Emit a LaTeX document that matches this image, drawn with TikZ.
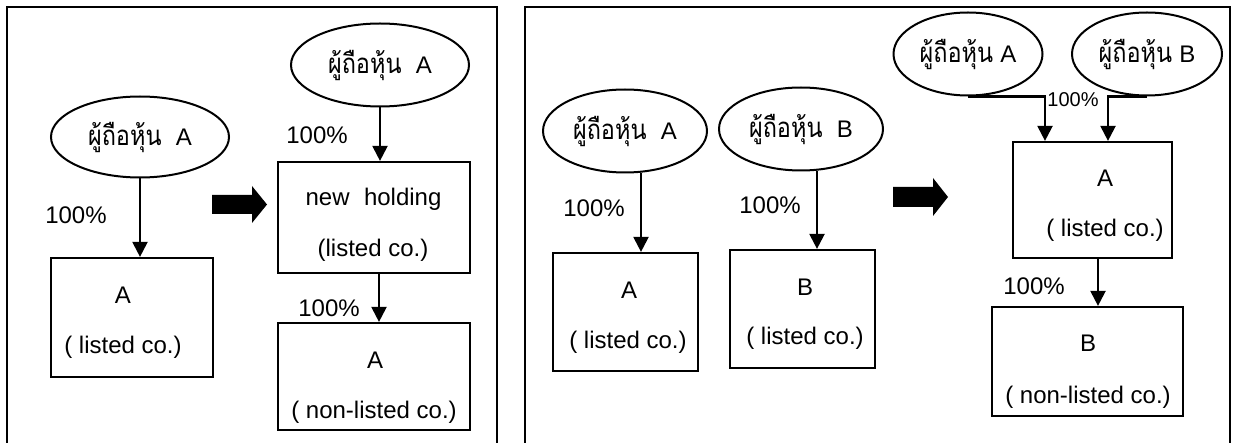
\documentclass[tikz,border=0pt]{standalone}
\usepackage{fontspec}
\setmainfont{Liberation Sans}
\newfontfamily\thaifont[Script=Thai,Scale=1.15,FakeStretch=0.85]{Loma}
\usetikzlibrary{shapes.geometric,arrows.meta}
\newcommand\holdertext[2][0.6em]{{\thaifont ผู้ถือหุ้น}\hspace{#1}#2}
\begin{document}
\begin{tikzpicture}[x=0.5pt,y=-0.5pt,
  frame/.style={draw, line width=1.1pt},
  box/.style={draw, line width=1.1pt, inner sep=0pt},
  holder/.style={draw, ellipse, line width=1pt, inner sep=0pt, font=\fontsize{12}{14}\selectfont},
  conn/.style={line width=1.1pt, -{Triangle[width=7.5pt,length=7.5pt]}},
  txt/.style={font=\fontsize{12}{14}\selectfont, inner sep=0pt},
  smalltxt/.style={font=\fontsize{10}{12}\selectfont, inner sep=0pt}]
\useasboundingbox (0,0) rectangle (1236,443);
\clip (0,0) rectangle (1236,443);
% frames
\draw[frame] (7,470) -- (7,7) -- (497,7) -- (497,470);
\draw[frame] (525,470) -- (525,7) -- (1230,7) -- (1230,470);

% ---------- left panel ----------
\node[holder, minimum width=89pt, minimum height=40.5pt] (e1) at (140,137) {\holdertext{A}};
\node[box, minimum width=81pt, minimum height=59.5pt] (b1) at (132,317.5) {};
\node[txt] (b1a) at (123,295) {A};
\node[txt] (b1b) at (123,347) {( listed co.)};
\node[txt] (p1) at (76,215) {100\%};
\draw[conn] (e1.south) -- (e1.south |- b1.north);

\fill (212,195) -- (252,195) -- (252,186) -- (267,204.5) -- (252,223) -- (252,214) -- (212,214) -- cycle;

\node[holder, minimum width=89pt, minimum height=41.5pt] (e2) at (380,65) {\holdertext{A}};
\node[box, minimum width=96pt, minimum height=55.5pt] (b2) at (374,217.5) {};
\node[txt] (b2a) at (373.5,199) {new\hspace{0.6em}holding};
\node[txt] (b2b) at (373,250) {(listed co.)};
\node[txt] (p2) at (317,135) {100\%};
\draw[conn] (e2.south) -- (e2.south |- b2.north);

\node[box, minimum width=96pt, minimum height=53.5pt] (b3) at (374,376.5) {};
\node[txt] (b3a) at (375,360) {A};
\node[txt] (b3b) at (374,412) {( non-listed co.)};
\node[txt] (p3) at (329,308) {100\%};
\draw[conn] ([xshift=2.5pt]b2.south) -- ([xshift=2.5pt]b2.south |- b3.north);

% ---------- right panel ----------
\node[holder, minimum width=82pt, minimum height=41.5pt] (e3) at (625,131) {\holdertext{A}};
\node[box, minimum width=72.5pt, minimum height=59pt] (b4) at (625.5,312) {};
\node[txt] (b4a) at (629,290) {A};
\node[txt] (b4b) at (628,342) {( listed co.)};
\node[txt] (p4) at (594,208) {100\%};
\draw[conn] ([xshift=8pt]e3.south) -- ([xshift=8pt]e3.south |- b4.north);

\node[holder, minimum width=82pt, minimum height=41.5pt] (e4) at (801,129) {\holdertext{B}};
\node[box, minimum width=72.5pt, minimum height=59pt] (b5) at (802.5,309) {};
\node[txt] (b5a) at (805,287) {B};
\node[txt] (b5b) at (805,338) {( listed co.)};
\node[txt] (p5) at (770,205) {100\%};
\draw[conn] ([xshift=8pt]e4.south) -- ([xshift=8pt]e4.south |- b5.north);

\fill (893,187) -- (933,187) -- (933,178) -- (948,197) -- (933,216) -- (933,207) -- (893,207) -- cycle;

\node[holder, minimum width=74.5pt, minimum height=41.5pt] (e5) at (968,54) {\holdertext[0.3em]{A}};
\node[holder, minimum width=75pt, minimum height=41.5pt] (e6) at (1147,54) {\holdertext[0.3em]{B}};
\node[box, minimum width=79.5pt, minimum height=58pt] (b6) at (1092.5,200) {};
\node[txt] (b6a) at (1105,178) {A};
\node[txt] (b6b) at (1105,230) {( listed co.)};
\node[smalltxt] (p6) at (1073,100) {100\%};
\draw[conn] (e5.south) -| ([xshift=-23.75pt]b6.north);
\draw[conn] (e6.south) -| ([xshift=7.75pt]b6.north);

\node[box, minimum width=95.5pt, minimum height=54.5pt] (b7) at (1087.5,361.5) {};
\node[txt] (b7a) at (1088,343) {B};
\node[txt] (b7b) at (1088,397) {( non-listed co.)};
\node[txt] (p7) at (1034,286) {100\%};
\draw[conn] ([xshift=2.75pt]b6.south) -- ([xshift=2.75pt]b6.south |- b7.north);
\end{tikzpicture}
\end{document}
